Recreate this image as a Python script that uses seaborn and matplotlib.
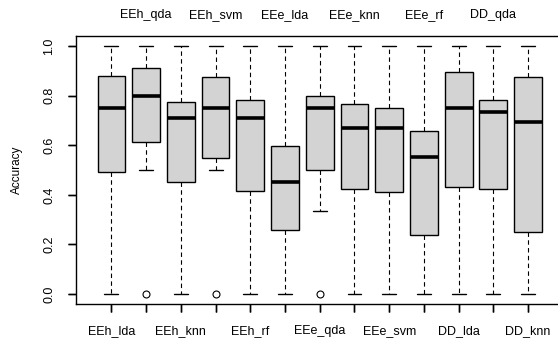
import numpy as np
import pandas as pd
import matplotlib
matplotlib.use("Agg")
import matplotlib.pyplot as plt
import seaborn as sns

# Classifier names, in plotting order
methods = ["EEh_lda", "EEh_qda", "EEh_knn", "EEh_svm", "EEh_rf",
           "EEe_lda", "EEe_qda", "EEe_knn", "EEe_svm", "EEe_rf",
           "DD_lda", "DD_qda", "DD_knn"]

# Five number summaries
whisker_low = [0.0, 0.5, 0.0, 0.5, 0.0, 0.0, 0.335, 0.0, 0.0, 0.0, 0.0, 0.0, 0.0]
q1 = [0.49, 0.614, 0.45, 0.55, 0.417, 0.258, 0.5, 0.425, 0.413, 0.238, 0.433, 0.425, 0.251]
median = [0.751, 0.80, 0.711, 0.751, 0.708, 0.45, 0.748, 0.668, 0.668, 0.551, 0.75, 0.734, 0.694]
q3 = [0.878, 0.913, 0.774, 0.874, 0.782, 0.595, 0.798, 0.765, 0.75, 0.656, 0.894, 0.782, 0.874]
whisker_high = [1.0] * 13
outlier = [None, 0.0, None, 0.0, None, None, 0.0, None, None, None, None, None, None]
yticks = [0.0, 0.2, 0.4, 0.6, 0.8, 1.0]

# Build a small sample per method whose quartiles/whiskers match the summary
rows = []
for i, m in enumerate(methods):
    first = whisker_low[i] if outlier[i] is None else outlier[i]
    vals = [first, whisker_low[i], q1[i], q1[i], median[i],
            q3[i], q3[i], whisker_high[i], whisker_high[i]]
    for v in vals:
        rows.append({"Method": m, "Accuracy": v})
df = pd.DataFrame(rows)

sns.set_style("ticks", {"axes.edgecolor": "black", "xtick.color": "black",
                        "ytick.color": "black", "text.color": "black",
                        "axes.labelcolor": "black"})
plt.rcParams["font.family"] = ["Liberation Sans", "DejaVu Sans"]
plt.rcParams["font.size"] = 9

fig = plt.figure(figsize=(5.58, 3.45), dpi=100)
ax = fig.add_axes([76 / 558, 41 / 345, 487.5 / 558, 268 / 345])

sns.boxplot(data=df, x="Method", y="Accuracy", order=methods, ax=ax,
            color="#d3d3d3", linecolor="black", linewidth=1, width=0.8,
            whis=1.5, saturation=1,
            medianprops={"linewidth": 2.6, "color": "black"},
            whiskerprops={"linestyle": (0, (4, 3)), "linewidth": 0.8},
            flierprops={"marker": "o", "markersize": 5, "markerfacecolor": "none",
                        "markeredgecolor": "black", "markeredgewidth": 0.8})

ax.set_xlim(-1.02, 13.02)
ax.set_ylim(-0.04, 1.04)

# Bottom axis: all ticks, labels on odd positions only
positions = np.arange(len(methods))
ax.set_xticks(positions)
ax.set_xticklabels([m if i % 2 == 0 else "" for i, m in enumerate(methods)], fontsize=9)
ax.tick_params(axis="x", direction="out", length=6, width=1, color="black", pad=9, bottom=True)
ax.set_xlabel("")

# Top axis: remaining labels, no ticks
secax = ax.secondary_xaxis("top")
secax.set_xticks(positions[1::2])
secax.set_xticklabels(methods[1::2], fontsize=9)
secax.tick_params(axis="x", length=0, pad=11)
secax.spines["top"].set_visible(False)

# Y axis
ax.set_yticks(yticks)
ax.set_yticklabels(["%.1f" % v for v in yticks], rotation=90, va="center", fontsize=9)
ax.tick_params(axis="y", direction="out", length=6, width=1, color="black", pad=9, left=True)
ax.set_ylabel("Accuracy", fontsize=8.5)
ax.yaxis.set_label_coords(-0.109, 0.5)

# Tick marks drawn as plain lines as well (R style outward ticks)
ax.vlines(positions, -0.031, 0, transform=ax.get_xaxis_transform(),
          colors="black", linewidth=1, clip_on=False)
ax.hlines(yticks, -0.017, 0, transform=ax.get_yaxis_transform(),
          colors="black", linewidth=1, clip_on=False)

for s in ax.spines.values():
    s.set_visible(True)
    s.set_color("black")
    s.set_linewidth(1)

fig.savefig("out.png", dpi=100)
